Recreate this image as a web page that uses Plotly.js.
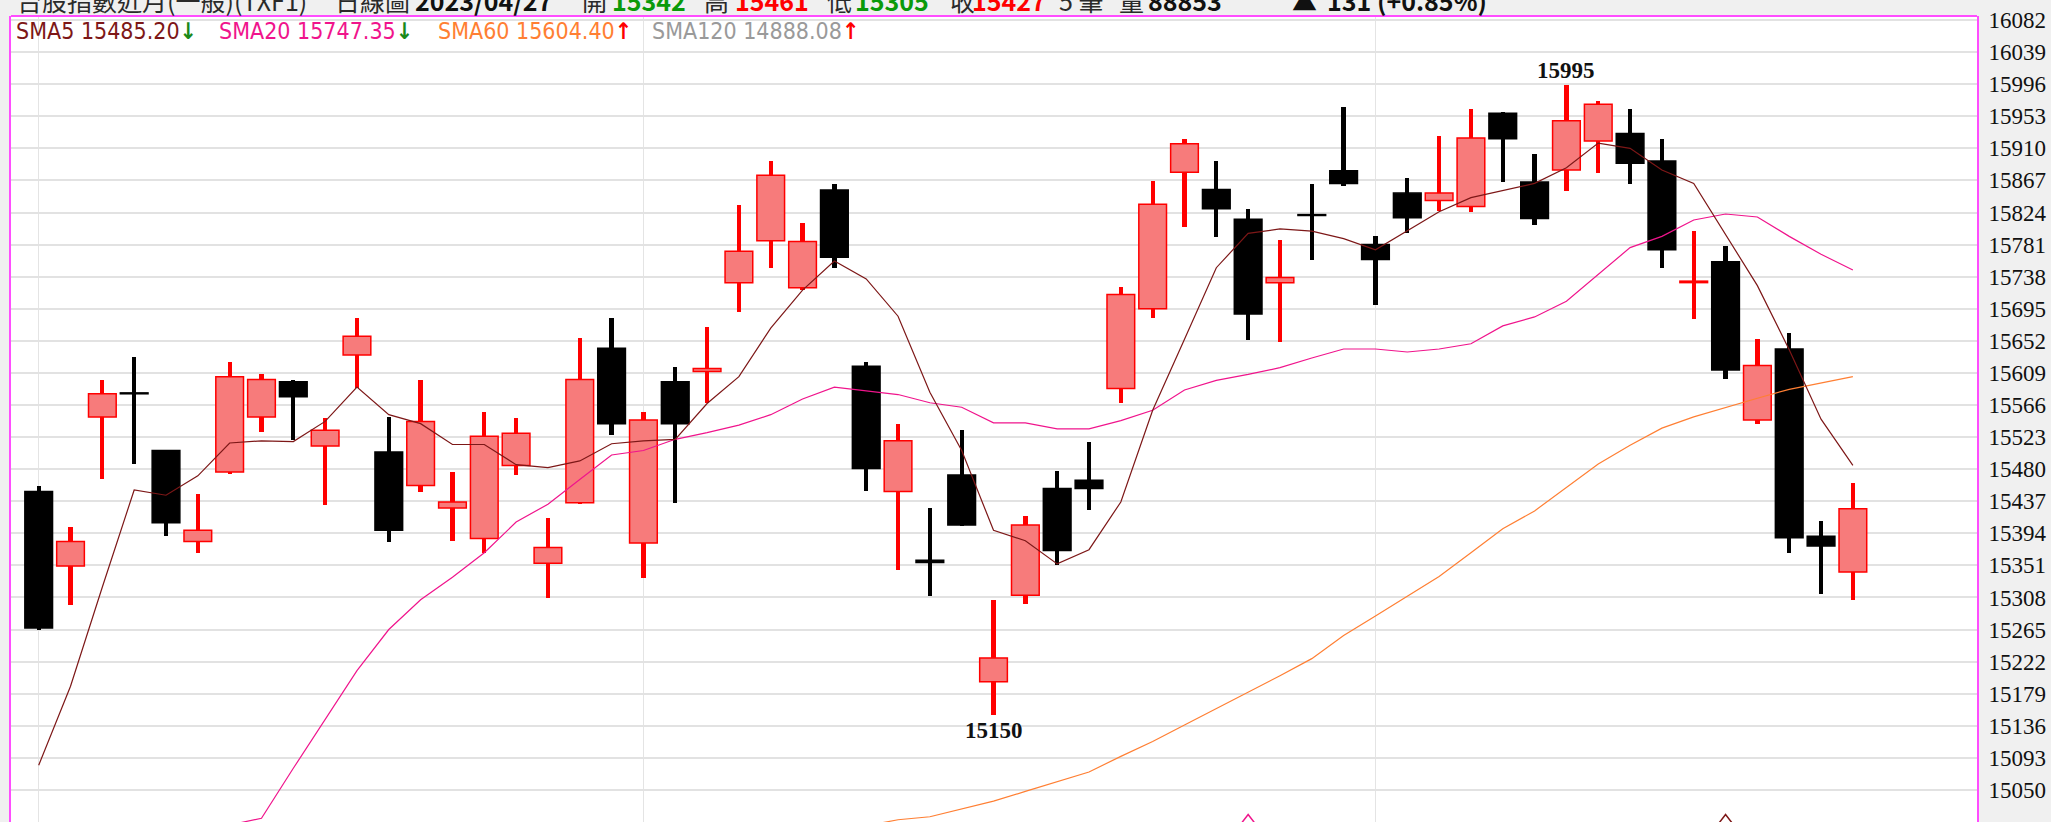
<!DOCTYPE html>
<html>
<head>
<meta charset="utf-8">
<script src="https://cdn.plot.ly/plotly-3.0.1.min.js"></script>
<style>
html,body{margin:0;padding:0;background:#f0f0f0;}
#chart{width:2051px;height:822px;}
</style>
</head>
<body>
<div id="chart"></div>
<script>
// ---- data ----
const openP  = [15450,15350,15550,15582,15505,15383,15476,15550,15597,15511,15633,15503,15458,15428,15387,15485,15354,15435,15642,15381,15597,15611,15730,15786,15723,15854,15618,15450,15358,15472,15195,15311,15454,15465,15588,15695,15878,15855,15815,15730,15821,15880,15781,15850,15840,15832,15957,15865,15881,15920,15930,15893,15730,15758,15546,15641,15390,15342];
const highP  = [15457,15402,15600,15630,15506,15447,15623,15608,15599,15548,15682,15550,15599,15476,15556,15548,15415,15656,15683,15556,15617,15670,15834,15893,15810,15862,15624,15540,15428,15532,15305,15417,15478,15517,15724,15866,15923,15893,15829,15787,15862,15966,15792,15870,15926,15963,15959,15903,15995,15973,15963,15922,15799,15779,15655,15663,15410,15461];
const lowP   = [15265,15298,15467,15487,15390,15367,15474,15530,15519,15432,15589,15383,15450,15384,15368,15472,15307,15433,15526,15334,15435,15568,15690,15749,15720,15750,15451,15345,15310,15404,15150,15299,15352,15425,15568,15683,15805,15791,15653,15651,15760,15859,15700,15796,15826,15825,15865,15807,15853,15877,15862,15749,15681,15601,15541,15368,15312,15305];
const closeP = [15267,15383,15581,15581,15408,15398,15604,15600,15577,15532,15658,15398,15544,15436,15524,15528,15375,15600,15541,15546,15541,15615,15772,15874,15785,15764,15481,15518,15355,15405,15227,15405,15371,15454,15714,15835,15916,15829,15688,15737,15820,15863,15761,15817,15850,15924,15923,15816,15947,15969,15890,15774,15732,15613,15619,15388,15377,15427];

const sma5  = [15083,15189,15322,15452,15445,15471,15515,15518,15517,15544,15590,15553,15541,15513,15513,15486,15482,15491,15514,15518,15520,15568,15604,15669,15720,15759,15735,15685,15583,15505,15398,15384,15353,15372,15436,15559,15654,15750,15796,15802,15799,15789,15774,15799,15825,15844,15854,15863,15884,15917,15910,15881,15863,15795,15726,15640,15547,15485];
const sma20 = [null,null,null,null,null,null,15003,15012,15079,15144,15210,15265,15305,15335,15368,15409,15433,15466,15499,15505,15520,15529,15539,15553,15574,15590,15585,15580,15569,15563,15542,15542,15534,15534,15545,15559,15586,15599,15607,15616,15629,15641,15641,15637,15641,15648,15672,15684,15705,15741,15777,15792,15814,15822,15818,15792,15768,15747];
const sma60 = [null,null,null,null,null,null,null,null,null,null,null,null,null,null,null,null,null,null,null,null,null,null,null,null,null,null,15002,15010,15014,15024,15035,15048,15061,15074,15095,15115,15137,15159,15180,15203,15226,15257,15283,15310,15336,15368,15400,15424,15456,15487,15512,15535,15550,15563,15575,15587,15596,15604];

const maNames = ['SMA5','SMA20','SMA60','SMA120'];
const maLast  = ['15485.20','15747.35','15604.40','14888.08'];
const maDir   = ['down','down','up','up'];

const yTicks = [15050,15093,15136,15179,15222,15265,15308,15351,15394,15437,15480,15523,15566,15609,15652,15695,15738,15781,15824,15867,15910,15953,15996,16039,16082];
const monthStartIdx = [1,20,43];
const signalIdx = [39,54];
const signalMa  = [1,0];   // which MA colour each signal uses

const headerTexts  = ['台股指數近月(一般)(TXF1)', '日線圖', '2023/04/27', '開', '15342', '高', '15461', '低', '15305', '收', '15427', '5 筆', '量', '88853', '▲', '131 (+0.85%)'];
const headerKinds  = ['label','label','date','label','down','label','up','label','down','label','up','label','label','value','value','value'];

// ---- styling / layout ----
const headerX = [15, 333, 413, 580, 610, 702, 733, 825, 853, 948, 970, 1057, 1117, 1146, 1290, 1325];
const kindColor = {label: '#2a2a2a', date: '#111111', down: '#0a9a0a', up: '#ff0000', value: '#111111'};
const maColors = ['#7d1717','#f0148c','#ff7f33','#9a9a9a'];
const upLine = '#ff0000', upFill = '#f77b7b', dnColor = '#000000';
const yRange = [15007, 16087.4];

const idx = openP.map((_, i) => i + 1);
const isUp = openP.map((o, i) => closeP[i] > o);

const wicks = {
  type: 'bar', x: idx,
  base: lowP, y: highP.map((h, i) => h - lowP[i]),
  width: 0.135,
  marker: {color: isUp.map(u => u ? upLine : dnColor), line: {width: 0}},
  hoverinfo: 'skip', showlegend: false
};
const bodies = {
  type: 'bar', x: idx,
  base: openP.map((o, i) => Math.min(o, closeP[i])),
  y: openP.map((o, i) => Math.max(Math.abs(closeP[i] - o), 1.2)),
  width: 0.87,
  marker: {
    color: isUp.map(u => u ? upFill : dnColor),
    line: {color: isUp.map(u => u ? upLine : dnColor), width: 1.5}
  },
  hoverinfo: 'skip', showlegend: false
};
const maTrace = (vals, c) => ({
  type: 'scatter', mode: 'lines', x: idx, y: vals,
  line: {color: c, width: 1.2}, hoverinfo: 'skip', showlegend: false, connectgaps: false
});
const signals = {
  type: 'scatter', mode: 'markers', x: signalIdx,
  y: signalIdx.map(() => yRange[0]),
  marker: {symbol: 'triangle-up-open', size: 15, color: signalMa.map(k => maColors[k]), line: {width: 1.5, color: signalMa.map(k => maColors[k])}},
  hoverinfo: 'skip', showlegend: false
};

// high / low labels
let hi = 0, lo = 0;
highP.forEach((h, i) => { if (h > highP[hi]) hi = i; });
lowP.forEach((l, i) => { if (l < lowP[lo]) lo = i; });
const labelFont = {family: 'Liberation Serif, Times New Roman, serif', size: 23, color: '#111'};

const plotL = 11, plotW = 1966;
const legendX = [14, 217, 436, 650];
const annotations = [
  {x: idx[hi], y: highP[hi], xref: 'x', yref: 'y', text: '<b>' + highP[hi] + '</b>', showarrow: false, yanchor: 'bottom', yshift: 0, font: labelFont},
  {x: idx[lo], y: lowP[lo], xref: 'x', yref: 'y', text: '<b>' + lowP[lo] + '</b>', showarrow: false, yanchor: 'top', yshift: -1, font: labelFont}
];
maNames.forEach((n, k) => {
  const arrow = maDir[k] === 'up' ? '<span style="color:#ff0000">↑</span>' : '<span style="color:#1a8a1a">↓</span>';
  annotations.push({
    xref: 'paper', yref: 'paper', x: (legendX[k] - plotL) / plotW, y: 1, yshift: -15,
    xanchor: 'left', yanchor: 'middle', showarrow: false,
    text: '<span style="color:' + maColors[k] + '">' + n + ' ' + maLast[k] + '</span><b>' + arrow + '</b>',
    font: {family: 'DejaVu Sans Condensed, DejaVu Sans, sans-serif', size: 23}
  });
});
headerTexts.forEach((t, k) => {
  const kind = headerKinds[k];
  const bold = kind !== 'label';
  annotations.push({
    xref: 'paper', yref: 'paper', x: (headerX[k] - plotL) / plotW, y: 1, yshift: 16,
    xanchor: 'left', yanchor: 'middle', showarrow: false,
    text: bold ? '<b>' + t + '</b>' : t,
    font: {family: 'Noto Sans CJK TC, Liberation Sans, sans-serif', size: 25, color: kindColor[kind]}
  });
});

const layout = {
  width: 2051, height: 822,
  margin: {l: plotL, r: 74, t: 16, b: 0, pad: 0},
  paper_bgcolor: '#f0f0f0', plot_bgcolor: '#ffffff',
  barmode: 'overlay', bargap: 0,
  showlegend: false,
  xaxis: {
    range: [0.13, 61.9], tickvals: monthStartIdx, showticklabels: false, ticks: '',
    showgrid: true, gridcolor: '#e4e4e4', gridwidth: 1.5, zeroline: false, showline: false,
    fixedrange: true, automargin: false
  },
  yaxis: {
    range: yRange, side: 'right', tickvals: yTicks, ticktext: yTicks.map(String),
    tickfont: labelFont, ticks: '', ticklabelstandoff: 5,
    showgrid: true, gridcolor: '#e2e2e2', gridwidth: 2, zeroline: false,
    showline: true, linecolor: '#ff4dff', linewidth: 2, mirror: true,
    fixedrange: true, automargin: false
  },
  shapes: [
    {type: 'line', xref: 'paper', yref: 'paper', x0: 0, x1: 1, y0: 1, y1: 1, line: {color: '#ff4dff', width: 2}}
  ],
  annotations: annotations
};

Plotly.newPlot('chart', [wicks, bodies, maTrace(sma60, maColors[2]), maTrace(sma20, maColors[1]), maTrace(sma5, maColors[0]), signals], layout, {staticPlot: true, displayModeBar: false});
</script>
</body>
</html>
